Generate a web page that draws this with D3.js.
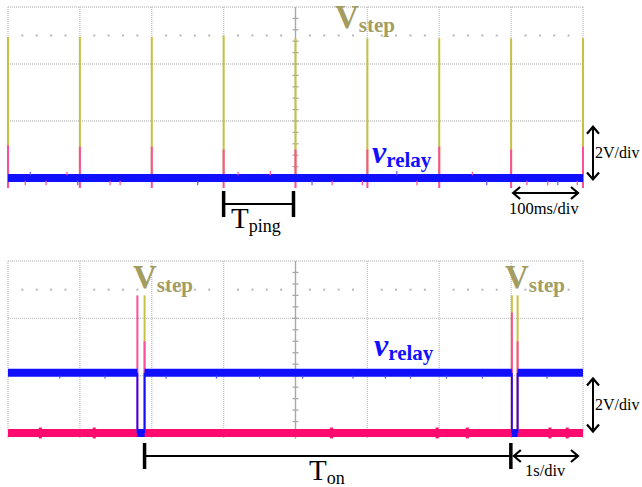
<!DOCTYPE html>
<html>
<head>
<meta charset="utf-8">
<script src="https://cdn.jsdelivr.net/npm/d3@7"></script>
<style>
    body { margin: 0; background: #fff; }
    svg { display: block; }
</style>
</head>
<body>
<svg id="scope" width="642" height="487"></svg>
<script>
// top capture, 100ms/div and 2V/div
const topSpikeTimes = [0, 100, 200, 300, 400, 500, 600, 700, 800]
const topStepPeaks = [4.95, 4.95, 4.95, 5.0, 4.9, 4.9, 4.9, 4.9, 4.9]
const topPingPeaks = [1.15, 1.1, 1.1, 1.0, 1.0, 1.0, 1.1, 1.0, 1.1]
const topRelay = [[0, 0], [800, 0]]
const topGlitchTimes = [24, 31, 53, 82, 97, 142, 156, 264, 320, 365, 423, 451, 493, 541, 569, 646, 666, 722, 751, 765, 792]
const topGlitchValues = [-0.25, 0.22, -0.25, 0.22, -0.25, -0.25, -0.25, -0.25, 0.22, 0.25, -0.25, -0.25, -0.25, 0.25, -0.25, 0.22, -0.25, -0.25, -0.25, -0.25, -0.25]

// bottom capture, 1s/div and 2V/div
const botRelay = [[0, 2.1], [1.8, 2.1], [1.8, 0], [1.9, 0], [1.9, 2.1], [7.01, 2.1], [7.01, 0], [7.09, 0], [7.09, 2.1], [8, 2.1]]
const botPing = [[0, 0], [8, 0]]
const botStepTimes = [1.9, 7.01, 7.09]
const botStepPeaks = [4.8, 4.8, 4.8]
const botPingTimes = [1.8, 1.9, 7.01, 7.09]
const botPingPeaks = [4.8, 3.2, 4.2, 3.2]
const botRelayGlitchTimes = [0.72, 1.35, 2.2, 2.9, 3.5, 4.1, 4.8, 5.25, 5.6, 6.1, 6.6, 7.5]
const botBumpTimes = [0.45, 1.2, 4.5, 5.97, 6.39, 7.54, 7.78]

const gridColor = "#c4c4c4"
const stepColor = "#c8c040"
const pingColor = "#ff4d9e"
const pingBand = "#ff0a6e"
const relayColor = "#1010ff"
const serif = "Liberation Serif, Times New Roman, serif"

const svg = d3.select("#scope")

function drawGrid(g, x, y, divs, bottomVolt) {
    const xMax = x.domain()[1]
    const step = xMax / divs
    const xs = d3.range(0, divs + 1).map(i => i * step)

    g.selectAll(".vgrid").data(xs).enter().append("line")
        .attr("x1", d => x(d)).attr("x2", d => x(d))
        .attr("y1", y(6)).attr("y2", y(bottomVolt))
        .attr("stroke", (d, i) => i === divs / 2 ? "#a8a8a8" : gridColor)
        .attr("stroke-width", 1.4)
        .attr("stroke-dasharray", (d, i) => i === divs / 2 ? null : "1,1")

    g.selectAll(".hgrid").data([0, 2, 4, 6]).enter().append("line")
        .attr("x1", x(0)).attr("x2", x(xMax))
        .attr("y1", d => y(d)).attr("y2", d => y(d))
        .attr("stroke", gridColor)
        .attr("stroke-width", 1.4)
        .attr("stroke-dasharray", "1,1")

    // minor dots on the 5V row
    const dots = d3.range(0, divs * 5 + 1).filter(i => i % 5 !== 0).map(i => i * step / 5)
    g.selectAll(".dot").data(dots).enter().append("rect")
        .attr("x", d => x(d) - 1).attr("y", y(5) - 1)
        .attr("width", 2).attr("height", 2)
        .attr("fill", "#b8b8b8")

    // ticks on centre line
    const cx = x(xMax / 2)
    g.selectAll(".ctick").data(d3.range(0.4, 6, 0.4)).enter().append("line")
        .attr("x1", cx - 3).attr("x2", cx + 3)
        .attr("y1", d => y(d)).attr("y2", d => y(d))
        .attr("stroke", "#a8a8a8").attr("stroke-width", 1.3)
}

function drawTrace(g, x, y, pts, color, thick) {
    for (let i = 0; i < pts.length - 1; i++) {
        const a = pts[i], b = pts[i + 1]
        const flat = a[1] === b[1]
        g.append("line")
            .attr("x1", x(a[0])).attr("x2", x(b[0]))
            .attr("y1", y(a[1])).attr("y2", y(b[1]))
            .attr("stroke", color)
            .attr("stroke-width", flat ? thick : 1.8)
    }
}

function drawSpikes(g, x, y, times, peaks, from, color) {
    g.selectAll(null).data(times).enter().append("line")
        .attr("x1", d => x(d)).attr("x2", d => x(d))
        .attr("y1", y(from)).attr("y2", (d, i) => y(peaks[i]))
        .attr("stroke", color).attr("stroke-width", 2)
}

function chevron(g, px, py, dx, dy) {
    // open arrow head pointing along (dx, dy)
    const s = 7, w = 6
    const bx = px - dx * s, by = py - dy * s
    g.append("path")
        .attr("d", "M" + (bx - dy * w) + "," + (by + dx * w) + "L" + px + "," + py + "L" + (bx + dy * w) + "," + (by - dx * w))
        .attr("fill", "none").attr("stroke", "#000").attr("stroke-width", 2.2)
}

function doubleArrow(g, x1, y1, x2, y2) {
    g.append("line").attr("x1", x1).attr("y1", y1).attr("x2", x2).attr("y2", y2)
        .attr("stroke", "#000").attr("stroke-width", 2)
    const len = Math.hypot(x2 - x1, y2 - y1)
    const dx = (x2 - x1) / len, dy = (y2 - y1) / len
    chevron(g, x2, y2, dx, dy)
    chevron(g, x1, y1, -dx, -dy)
}

function bracket(g, x1, x2, yMid, top, bottom) {
    g.append("line").attr("x1", x1).attr("x2", x2).attr("y1", yMid).attr("y2", yMid)
        .attr("stroke", "#000").attr("stroke-width", 2)
    g.selectAll(null).data([x1, x2]).enter().append("line")
        .attr("x1", d => d).attr("x2", d => d)
        .attr("y1", top).attr("y2", bottom)
        .attr("stroke", "#000").attr("stroke-width", 3.5)
}

function label(g, x, y, big, sub, color, italic, bigSize, subSize, subDy) {
    const weight = color === "#000" ? "normal" : "bold"
    const t = g.append("text")
        .attr("x", x).attr("y", y)
        .attr("font-family", serif)
        .attr("fill", color)
    t.append("tspan").text(big)
        .attr("font-size", bigSize)
        .attr("font-weight", weight)
        .attr("font-style", italic ? "italic" : "normal")
    t.append("tspan").text(sub)
        .attr("font-size", subSize)
        .attr("font-weight", weight)
        .attr("dy", subDy)
}

function plainText(g, x, y, s, size) {
    g.append("text").attr("x", x).attr("y", y)
        .attr("font-family", serif).attr("font-size", size)
        .attr("fill", "#000").text(s)
}

// ---- top panel ----
function setupTop() {
    const g = svg.append("g")
    const x = d3.scaleLinear().domain([0, 800]).range([8, 583])
    const y = d3.scaleLinear().domain([0, 6]).range([178, 7])

    drawGrid(g, x, y, 8, -0.35)
    drawTrace(g, x, y, topRelay, pingBand, 8)
    drawSpikes(g, x, y, topSpikeTimes, topStepPeaks, 0, stepColor)
    drawSpikes(g, x, y, topSpikeTimes, topPingPeaks, -0.35, pingColor)
    drawTrace(g, x, y, topRelay, relayColor, 8)

    g.selectAll(".glitch").data(topGlitchTimes).enter().append("line")
        .attr("x1", d => x(d)).attr("x2", d => x(d))
        .attr("y1", (d, i) => y(topGlitchValues[i] > 0 ? 0.1 : -0.1))
        .attr("y2", (d, i) => y(topGlitchValues[i]))
        .attr("stroke", (d, i) => i % 3 === 1 ? "#5a5aff" : pingColor)
        .attr("stroke-width", 1.2)

    label(g, 335, 28, "V", "step", "#a39d5f", false, 33, 21, 4)
    label(g, 372, 163, "v", "relay", relayColor, true, 32, 21, 4)

    doubleArrow(g, 593, y(1.8), 593, y(-0.05))
    plainText(g, 595, 158, "2V/div", 16)
    doubleArrow(g, x(700) + 2, 193, x(800) - 5, 193)
    plainText(g, 509, 214, "100ms/div", 16.5)

    bracket(g, x(300), x(400) - 2, 204, 191, 217)
    label(g, 231, 228, "T", "ping", "#000", false, 29, 18, 4)
}

// ---- bottom panel ----
function setupBottom() {
    const g = svg.append("g")
    const x = d3.scaleLinear().domain([0, 8]).range([8, 583])
    const y = d3.scaleLinear().domain([0, 6]).range([433, 261])

    drawGrid(g, x, y, 8, -0.2)
    drawSpikes(g, x, y, botStepTimes, botStepPeaks, 0, stepColor)
    drawTrace(g, x, y, botPing, pingBand, 8)
    g.selectAll(".bump").data(botBumpTimes).enter().append("line")
        .attr("x1", d => x(d)).attr("x2", d => x(d))
        .attr("y1", y(-0.19)).attr("y2", y(0.19))
        .attr("stroke", pingBand).attr("stroke-width", 3)
    drawSpikes(g, x, y, botPingTimes, botPingPeaks, 0, pingColor)
    drawTrace(g, x, y, botRelay, relayColor, 8)
    g.selectAll(".rglitch").data(botRelayGlitchTimes).enter().append("line")
        .attr("x1", d => x(d)).attr("x2", d => x(d))
        .attr("y1", y(2.0)).attr("y2", y(1.9))
        .attr("stroke", "#4a4aff").attr("stroke-width", 1.2)

    label(g, 133, 288, "V", "step", "#a39d5f", false, 33, 21, 4)
    label(g, 505, 288, "V", "step", "#a39d5f", false, 33, 21, 4)
    label(g, 374, 356, "v", "relay", relayColor, true, 32, 21, 4)

    doubleArrow(g, 593, y(1.9), 593, y(0.05))
    plainText(g, 595, 410, "2V/div", 16)

    bracket(g, x(1.9), x(7.01) - 1, 456, 443, 469)
    doubleArrow(g, x(7.01) + 2, 456, x(8) - 5, 456)
    plainText(g, 525, 476, "1s/div", 16.5)
    label(g, 309, 480, "T", "on", "#000", false, 29, 18, 4)
}

setupTop()
setupBottom()
</script>
</body>
</html>
